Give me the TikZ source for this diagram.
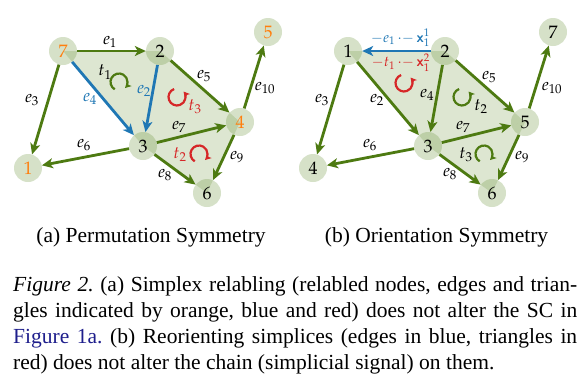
\documentclass[tikz,border=0pt]{standalone}
\usepackage{mathpazo}
\usepackage[no-math]{fontspec}
\setmainfont{Liberation Serif}
\usetikzlibrary{arrows.meta}
\definecolor{eg}{RGB}{77,122,17}
\definecolor{eb}{RGB}{31,119,180}
\definecolor{er}{RGB}{214,39,40}
\definecolor{eo}{RGB}{255,127,14}
\definecolor{ng}{RGB}{118,155,72}
\definecolor{linkblue}{RGB}{30,30,140}
\newcommand{\bx}{\mbox{\sffamily\bfseries x}}
\tikzset{
  vtx/.style={circle, fill=ng, fill opacity=0.3, text opacity=1, minimum size=28pt, inner sep=0pt, font=\fontsize{18}{20}\selectfont},
  tri/.style={fill=ng, fill opacity=0.25, draw=none},
  edg/.style={draw=eg, line width=2.8pt, -{Stealth[length=11pt,width=10pt,inset=3pt]}},
  bedg/.style={edg, draw=eb},
  lbl/.style={inner sep=0pt, font=\fontsize{17}{20}\selectfont},
  slbl/.style={inner sep=0pt, font=\fontsize{14.5}{17}\selectfont},
  rot/.style={line width=2.2pt, -{Stealth[length=6pt,width=6.5pt,inset=1.5pt]}},
  captxt/.style={inner sep=0pt, font=\fontsize{21.5}{26}\selectfont},
}
\begin{document}
\frenchspacing
\begin{tikzpicture}[x=1pt,y=-1pt]
\useasboundingbox (0,0) rectangle (587,381);
% ---------- (a) ----------
\coordinate (p7) at (63,51);
\coordinate (p2) at (160,51);
\coordinate (p5) at (268,32);
\coordinate (p4) at (240,122);
\coordinate (p3) at (143,146);
\coordinate (p1) at (28,168);
\coordinate (p6) at (207,193);
\fill[tri] (p7) -- (p2) -- (p3) -- cycle;
\fill[tri] (p2) -- (p4) -- (p3) -- cycle;
\fill[tri] (p3) -- (p4) -- (p6) -- cycle;
\node[vtx, text=eo] (a7) at (p7) {$7$};
\node[vtx] (a2) at (p2) {$2$};
\node[vtx, text=eo] (a5) at (p5) {$5$};
\node[vtx, text=eo] (a4) at (p4) {$4$};
\node[vtx] (a3) at (p3) {$3$};
\node[vtx, text=eo] (a1) at (p1) {$1$};
\node[vtx] (a6) at (p6) {$6$};
\draw[edg] (a7) -- (a2);
\draw[edg] (a7) -- (a1);
\draw[bedg] (a7) -- (a3);
\draw[bedg] (a2) -- (a3);
\draw[edg] (a2) -- (a4);
\draw[edg] (a4) -- (a5);
\draw[edg] (a3) -- (a4);
\draw[edg] (a3) -- (a1);
\draw[edg] (a3) -- (a6);
\draw[edg] (a4) -- (a6);
\node[lbl] (la1) at (110,42) {$e_1$};
\node[lbl] (la3) at (32,100) {$e_3$};
\node[lbl, text=eb] (la4) at (90,99) {$e_4$};
\node[lbl, text=eb] (la2) at (144,91) {$e_2$};
\node[lbl] (lat1) at (105,72) {$t_1$};
\node[lbl] (la5) at (204,76) {$e_5$};
\node[lbl, text=er] (lat3) at (195,107) {$t_3$};
\node[lbl] (la10) at (265,88) {$e_{10}$};
\node[lbl] (la7) at (179,127) {$e_7$};
\node[lbl] (la6) at (84,145) {$e_6$};
\node[lbl] (la8) at (165,175) {$e_8$};
\node[lbl, text=er] (lat2) at (180,155) {$t_2$};
\node[lbl] (la9) at (237,157) {$e_9$};
\coordinate (ca1) at (119,82);
\coordinate (ca3) at (177,97);
\coordinate (ca2) at (199,154);
\draw[rot, draw=eg] (ca1) ++(120:8.5) arc[start angle=120, end angle=405, radius=8.5];
\draw[rot, draw=er] (ca3) ++(-110:8.5) arc[start angle=-110, end angle=-400, radius=8.5];
\draw[rot, draw=er] (ca2) ++(120:8.5) arc[start angle=120, end angle=405, radius=8.5];
% ---------- (b) ----------
\coordinate (q1) at (348,51);
\coordinate (q2) at (445,51);
\coordinate (q7) at (553,32);
\coordinate (q5) at (525,122);
\coordinate (q3) at (428,146);
\coordinate (q4) at (313,168);
\coordinate (q6) at (492,193);
\fill[tri] (q1) -- (q2) -- (q3) -- cycle;
\fill[tri] (q2) -- (q5) -- (q3) -- cycle;
\fill[tri] (q3) -- (q5) -- (q6) -- cycle;
\node[vtx] (b1) at (q1) {$1$};
\node[vtx] (b2) at (q2) {$2$};
\node[vtx] (b7) at (q7) {$7$};
\node[vtx] (b5) at (q5) {$5$};
\node[vtx] (b3) at (q3) {$3$};
\node[vtx] (b4) at (q4) {$4$};
\node[vtx] (b6) at (q6) {$6$};
\draw[bedg] (b2) -- (b1);
\draw[edg] (b1) -- (b4);
\draw[edg] (b1) -- (b3);
\draw[edg] (b2) -- (b3);
\draw[edg] (b2) -- (b5);
\draw[edg] (b5) -- (b7);
\draw[edg] (b3) -- (b5);
\draw[edg] (b3) -- (b4);
\draw[edg] (b3) -- (b6);
\draw[edg] (b5) -- (b6);
\node[slbl, text=eb, anchor=east] (lbe1) at (430,38) {$-e_1\,{\cdot}{-}\,\bx_1^1$};
\node[slbl, text=er, anchor=east] (lbt1) at (430,63) {$-t_1\,{\cdot}{-}\,\bx_1^2$};
\node[lbl] (lb3) at (322,100) {$e_3$};
\node[lbl] (lb2) at (377,100) {$e_2$};
\node[lbl] (lb4) at (427,95) {$e_4$};
\node[lbl] (lb5) at (489,77) {$e_5$};
\node[lbl] (lbt2) at (481,107) {$t_2$};
\node[lbl] (lb10) at (552,88) {$e_{10}$};
\node[lbl] (lb7) at (463,127) {$e_7$};
\node[lbl] (lb6) at (370,145) {$e_6$};
\node[lbl] (lb8) at (450,174) {$e_8$};
\node[lbl] (lbt3) at (466,155) {$t_3$};
\node[lbl] (lb9) at (522,157) {$e_9$};
\coordinate (cb1) at (404,83);
\coordinate (cb2) at (462,97);
\coordinate (cb3) at (484,154);
\draw[rot, draw=er] (cb1) ++(-110:8.5) arc[start angle=-110, end angle=-400, radius=8.5];
\draw[rot, draw=eg] (cb2) ++(-110:8.5) arc[start angle=-110, end angle=-400, radius=8.5];
\draw[rot, draw=eg] (cb3) ++(120:8.5) arc[start angle=120, end angle=405, radius=8.5];
% ---------- captions ----------
\node[captxt, anchor=base] (sa) at (151,242) {(a) Permutation Symmetry};
\node[captxt, anchor=base] (sb) at (436.5,242) {(b) Orientation Symmetry};
\node[captxt, anchor=base west] (c1) at (13,291) {\makebox[564pt][s]{\textit{Figure 2.} (a) Simplex relabling (relabled nodes, edges and trian-}};
\node[captxt, anchor=base west] (c2) at (13,317) {\makebox[564pt][s]{gles indicated by orange, blue and red) does not alter the SC in}};
\node[captxt, anchor=base west] (c3) at (13,343) {\makebox[564pt][s]{\textcolor{linkblue}{Figure 1a.} (b) Reorienting simplices (edges in blue, triangles in}};
\node[captxt, anchor=base west] (c4) at (13,369) {red) does not alter the chain (simplicial signal) on them.};
\end{tikzpicture}
\end{document}
